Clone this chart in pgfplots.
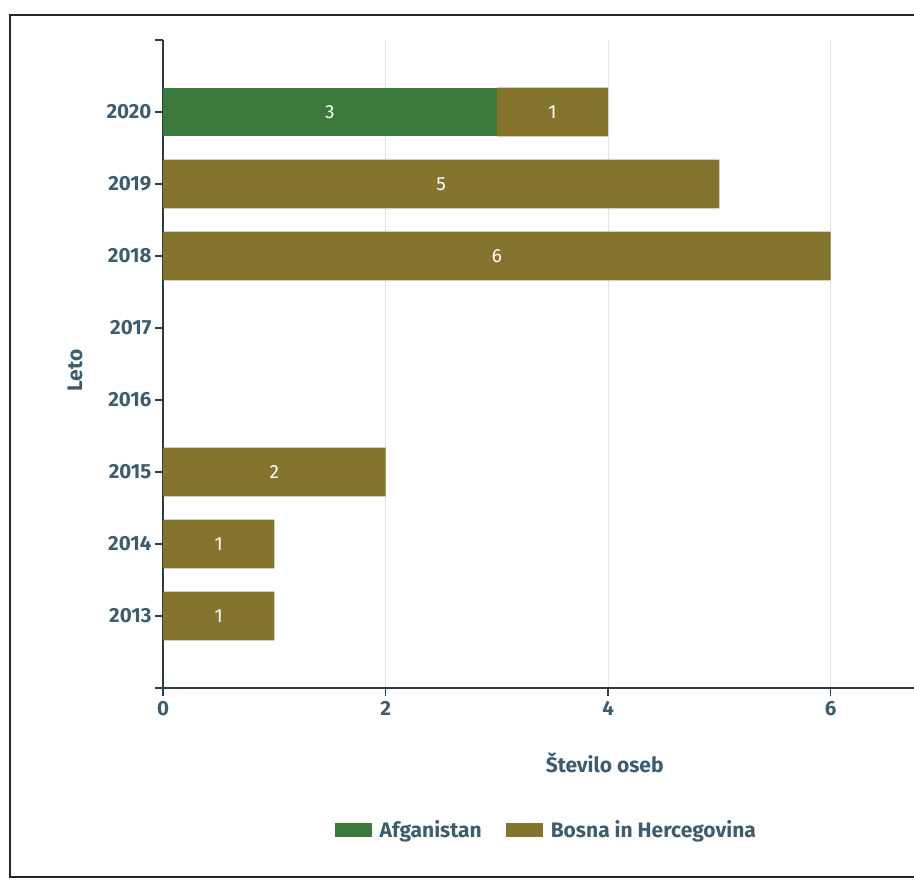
\documentclass[border=0pt]{standalone}
\usepackage{pgfplots}
\pgfplotsset{compat=1.18}
\usepackage{pgfplotstable}
\usepackage{fontspec}
\setmainfont{Fira Sans}
\definecolor{afg}{HTML}{3C7A3C}
\definecolor{bih}{HTML}{85742E}
\definecolor{lab}{HTML}{3E5C6F}
\definecolor{gridc}{HTML}{DCE8EE}
\definecolor{axc}{HTML}{2E3B42}

\pgfplotstableread{
y    afg bih
2013 0   1
2014 0   1
2015 0   2
2016 0   0
2017 0   0
2018 0   6
2019 0   5
2020 3   1
}\data

\pgfplotstableread{
x   y    l
1.5 2020 3
3.5 2020 1
2.5 2019 5
3.0 2018 6
1.0 2015 2
0.5 2014 1
0.5 2013 1
}\labels

\pgfplotsset{
  common/.style={
    at={(163pt,193pt)}, anchor=south west,
    scale only axis, width=779pt, height=648pt,
    xmin=0, xmax=7, ymin=2012, ymax=2021,
  }
}

\begin{document}
\begin{tikzpicture}
\useasboundingbox (0pt,0pt) rectangle (914pt,881pt);
\clip (0pt,0pt) rectangle (914pt,881pt);
\draw[line width=1.6pt, black!85] (10pt,4pt) rectangle (945pt,866pt);
\begin{axis}[common,
  xbar stacked, bar width=0.68,
  axis x line*=bottom, axis y line*=left,
  axis line style={axc, line width=1.5pt},
  every tick/.style={axc, line width=1.5pt},
  major tick length=8pt,
  tick align=outside,
  xtick={0,2,4,6},
  ytick={2013,...,2020},
  extra y ticks={2012,2021},
  extra y tick labels={},
  xmajorgrids,
  major grid style={gridc, line width=1pt},
  /pgf/number format/1000 sep={},
  /pgf/number format/assume math mode=true,
  ticklabel style={font=\fontsize{20.5}{24}\selectfont\bfseries, text=lab},
  yticklabel style={xshift=0pt},
  xticklabel style={yshift=-2pt},
  xlabel={Število oseb},
  ylabel={Leto},
  label style={font=\fontsize{21}{24}\selectfont\bfseries, text=lab},
  xlabel style={at={(axis description cs:0.567,-0.116)}, anchor=center},
  ylabel style={at={(axis description cs:-0.113,0.49)}, anchor=center},
  legend style={at={(axis description cs:0.492,-0.219)}, anchor=center,
    draw=none, fill=none, legend columns=2,
    font=\fontsize{21}{24}\selectfont\bfseries, text=lab,
    /tikz/every odd column/.append style={column sep=6pt},
    /tikz/every even column/.append style={column sep=22pt}},
  legend image code/.code={\fill[#1] (0pt,-7pt) rectangle (37pt,7pt);},
]
\addplot[fill=afg, draw=none] table[x=afg, y=y] {\data};
\addplot[fill=bih, draw=none] table[x=bih, y=y] {\data};
\legend{Afganistan, Bosna in Hercegovina}
\end{axis}
\begin{axis}[common, hide axis]
\addplot[draw=none, mark=none, nodes near coords, point meta=explicit symbolic,
  nodes near coords style={anchor=center, text=white, font=\fontsize{19}{21}\selectfont}]
  table[x=x, y=y, meta=l] {\labels};
\end{axis}
\end{tikzpicture}
\end{document}
